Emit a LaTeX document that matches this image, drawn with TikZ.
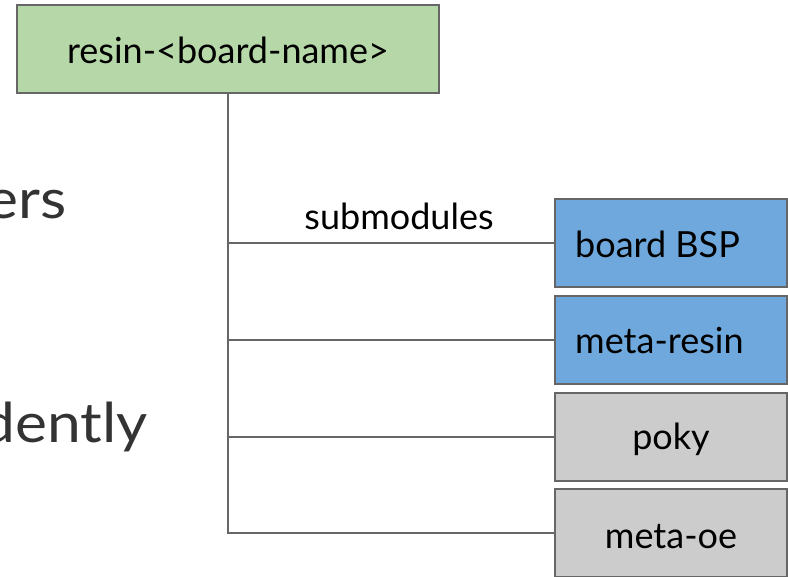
\documentclass[tikz,border=0pt]{standalone}
\usepackage{fontspec}
\setmainfont{Lato}
\newfontfamily\bigfont{Lato}[FakeStretch=1.1]
\definecolor{gbox}{HTML}{B6D7A8}
\definecolor{bbox}{HTML}{6FA8DC}
\definecolor{ybox}{HTML}{CCCCCC}
\definecolor{edge}{HTML}{666666}
\definecolor{bigtext}{HTML}{333333}
\begin{document}
\begin{tikzpicture}[x=1pt,y=-1pt,
  box/.style={draw=edge,line width=1.5pt,rectangle,anchor=north west,inner sep=0pt,outer sep=0pt,minimum width=232pt,minimum height=88pt},
  lbl/.style={inner sep=0pt,font=\fontsize{36}{42}\selectfont,text=black},
  big/.style={inner sep=0pt,font=\bigfont\fontsize{55}{64}\selectfont,text=bigtext,anchor=base east},
  conn/.style={draw=edge,line width=1.5pt}]
\useasboundingbox (0,0) rectangle (788,577);
\clip (0,0) rectangle (788,577);
\fill[white] (0,0) rectangle (788,577);
% left slide text (cut off)
\node[big] (ers) at (67,219) {ers};
\node[big] (dently) at (148,443) {dently};
% top box
\node[box,fill=gbox,minimum width=422pt] (g) at (17,5) {};
\node[lbl,anchor=base] (gt) at (g.center |- 0,63.5) {resin-<board-name>};
% submodule boxes
\node[box,fill=bbox] (b1) at (555,199) {};
\node[box,fill=bbox] (b2) at (555,296) {};
\node[box,fill=ybox] (b3) at (555,393) {};
\node[box,fill=ybox] (b4) at (555,489) {};
\node[lbl,anchor=base west] (t1) at (575,257.5) {board BSP};
\node[lbl,anchor=base west] (t2) at (575,354) {meta-resin};
\node[lbl,anchor=base] (t3) at (671,450) {poky};
\node[lbl,anchor=base] (t4) at (671,548) {meta-oe};
% connectors
\draw[conn] (g.south) |- (b4.west);
\draw[conn] (g.south) |- (b1.west);
\draw[conn] (g.south) |- (b2.west);
\draw[conn] (g.south) |- (b3.west);
\node[lbl,anchor=base] (sub) at (399,230) {submodules};
\end{tikzpicture}
\end{document}
